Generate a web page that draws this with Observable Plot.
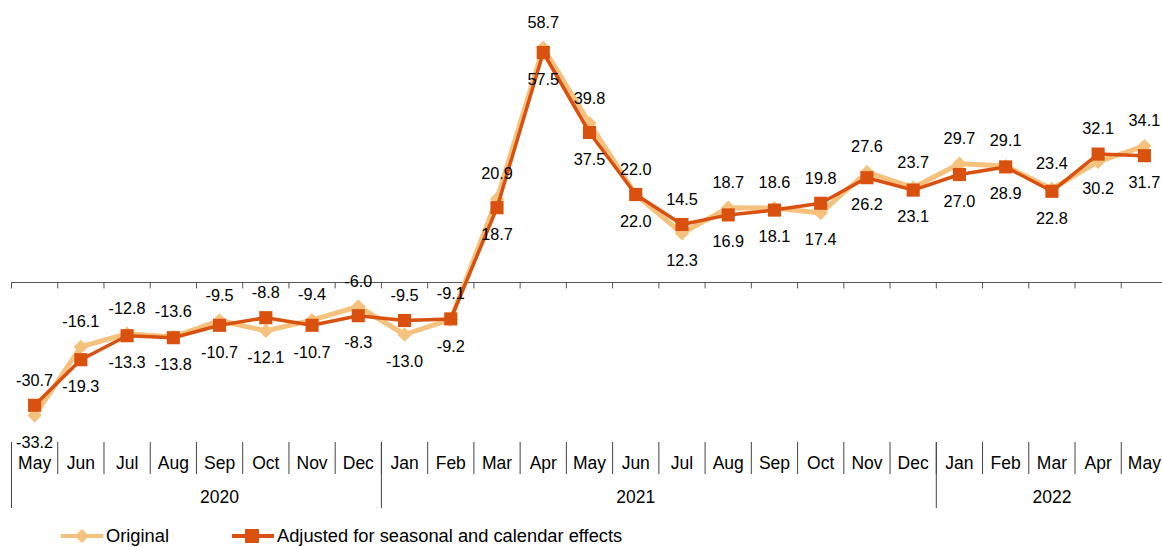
<!DOCTYPE html>
<html>
<head>
<meta charset="utf-8">
<script src="https://cdn.jsdelivr.net/npm/d3@7"></script>
<script src="https://cdn.jsdelivr.net/npm/@observablehq/plot@0.6"></script>
<style>
  html, body { margin: 0; padding: 0; background: #fff; }
  body { width: 1162px; height: 547px; overflow: hidden; font-family: "Liberation Sans", Arial, sans-serif; }
  #legend { position: absolute; top: 525px; left: 61px; display: flex; align-items: center; font-size: 18.3px; color: #000; }
  #legend .item { display: flex; align-items: center; }
  #legend svg { margin-right: 3px; }
</style>
</head>
<body>
<div id="chart"></div>
<div id="legend">
  <div class="item"><svg width="42" height="20"><line x1="0" y1="10" x2="42" y2="10" stroke="#F5C27E" stroke-width="4"/><rect x="16" y="5" width="10" height="10" fill="#F5C27E" transform="rotate(45 21 10)"/></svg>Original</div>
  <div class="item" style="margin-left:63px"><svg width="42" height="20"><line x1="0" y1="10" x2="42" y2="10" stroke="#D9500F" stroke-width="4"/><rect x="13" y="3" width="14" height="14" fill="#D9500F"/></svg>Adjusted for seasonal and calendar effects</div>
</div>
<script>
const keys = ["2020-05","2020-06","2020-07","2020-08","2020-09","2020-10","2020-11","2020-12",
  "2021-01","2021-02","2021-03","2021-04","2021-05","2021-06","2021-07","2021-08","2021-09","2021-10","2021-11","2021-12",
  "2022-01","2022-02","2022-03","2022-04","2022-05"];
const monthLabels = ["May","Jun","Jul","Aug","Sep","Oct","Nov","Dec",
  "Jan","Feb","Mar","Apr","May","Jun","Jul","Aug","Sep","Oct","Nov","Dec",
  "Jan","Feb","Mar","Apr","May"];
const original = [-33.2,-16.1,-12.8,-13.6,-9.5,-12.1,-9.4,-6.0,
  -13.0,-9.2,20.9,58.7,39.8,22.0,12.3,18.7,18.6,17.4,27.6,23.7,
  29.7,29.1,23.4,30.2,34.1];
const adjusted = [-30.7,-19.3,-13.3,-13.8,-10.7,-8.8,-10.7,-8.3,
  -9.5,-9.1,18.7,57.5,37.5,22.0,14.5,16.9,18.1,19.8,26.2,23.1,
  27.0,28.9,22.8,32.1,31.7];
const years = ["2020","2021","2022"];
const yearStart = ["2020-05","2021-01","2022-01"];
const yearMid = ["2020-09","2021-06","2022-03"];

const origColor = "#F5C27E";
const adjColor = "#D9500F";

const orig = keys.map((k,i) => ({k, v: original[i], above: original[i] >= adjusted[i]}));
const adj = keys.map((k,i) => ({k, v: adjusted[i], above: adjusted[i] > original[i]}));

const W = 1162, H = 520;
const x0 = 11, x1 = 1167;
const bw = (x1 - x0) / keys.length;
const fmt = d => d.v.toFixed(1);

const plot = Plot.plot({
  width: W, height: H,
  marginTop: 0, marginBottom: 0, marginLeft: 0, marginRight: 0,
  x: {type: "band", domain: keys, range: [x0, x1], padding: 0, round: false, axis: null},
  y: {domain: [-59.5, 70.5], axis: null},
  style: {fontFamily: "Liberation Sans, Arial, sans-serif", background: "#fff", overflow: "visible"},
  marks: [
    Plot.ruleY([0], {insetLeft: x0, stroke: "#555", strokeWidth: 1}),
    // tick marks on zero line at band boundaries
    Plot.ruleX(keys, {x: d => d, dx: -bw/2, y1: 0, y2: -1.6, stroke: "#555"}),
    // category separators
    Plot.ruleX(keys, {x: d => d, dx: -bw/2, insetTop: 442, insetBottom: 46, stroke: "#444"}),
    Plot.ruleX(yearStart, {x: d => d, dx: -bw/2, insetTop: 442, insetBottom: 12, stroke: "#444"}),
    Plot.text(keys, {x: d => d, text: (d,i) => monthLabels[i], frameAnchor: "bottom", dy: -52, fontSize: 17.5, fill: "#000"}),
    Plot.text(yearMid, {x: d => d, text: (d,i) => years[i], frameAnchor: "bottom", dy: -18, dx: 0, fontSize: 17.5, fill: "#000"}),
    // series
    Plot.line(orig, {x: "k", y: "v", stroke: origColor, strokeWidth: 5}),
    Plot.dot(orig, {x: "k", y: "v", symbol: "diamond2", r: 6.5, fill: origColor, stroke: "none"}),
    Plot.line(adj, {x: "k", y: "v", stroke: adjColor, strokeWidth: 3.5}),
    Plot.dot(adj, {x: "k", y: "v", symbol: "square", r: 7.4, fill: adjColor, stroke: "none"}),
    // labels
    Plot.text(orig.filter(d => d.above), {x: "k", y: "v", text: fmt, dy: -25, fontSize: 16.3, fill: "#000"}),
    Plot.text(orig.filter(d => !d.above), {x: "k", y: "v", text: fmt, dy: 27, fontSize: 16.3, fill: "#000"}),
    Plot.text(adj.filter(d => d.above), {x: "k", y: "v", text: fmt, dy: -25, fontSize: 16.3, fill: "#000"}),
    Plot.text(adj.filter(d => !d.above), {x: "k", y: "v", text: fmt, dy: 27, fontSize: 16.3, fill: "#000"})
  ]
});
document.getElementById("chart").appendChild(plot);
</script>
</body>
</html>
